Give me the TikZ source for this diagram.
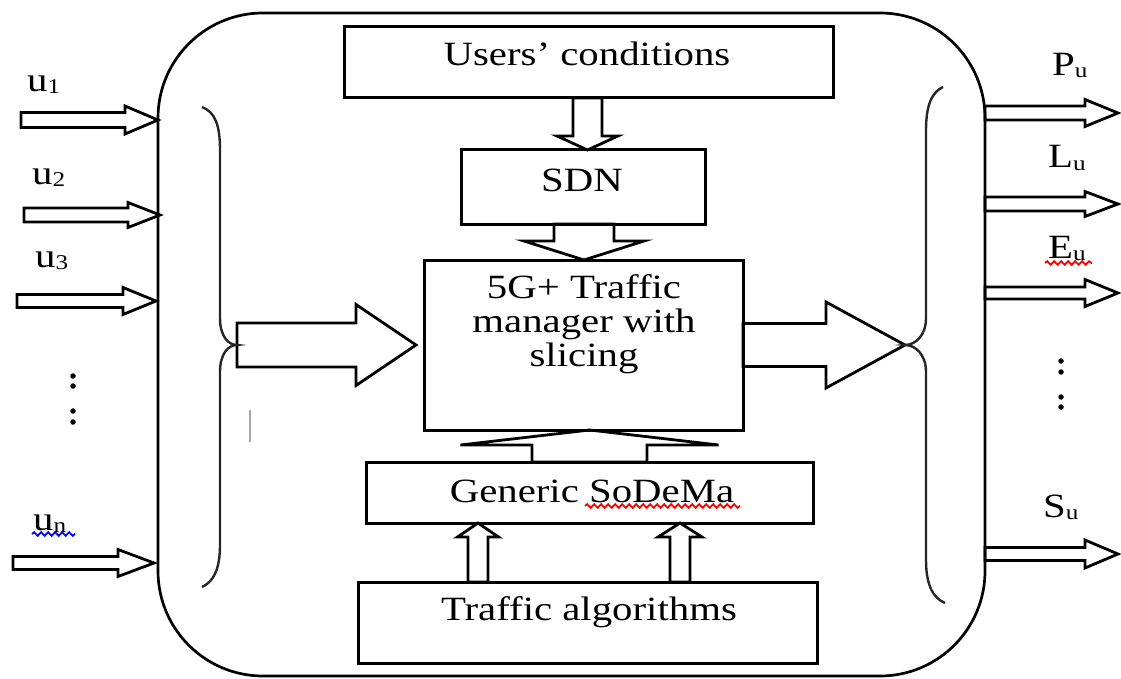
\documentclass[tikz,border=0pt]{standalone}
\usepackage{fontspec}
\setmainfont{Liberation Serif}[FakeStretch=1.2]
\usetikzlibrary{calc,backgrounds,decorations.pathmorphing}

\newcommand\mylbl[2]{#1\raisebox{-2pt}{\fontsize{21}{21}\selectfont #2}}
% horizontal block arrow pointing right: start, tip, shaft half, head half, head length
\newcommand\blockR[5]{\draw[blk] let \p1=#1, \p2=#2 in
  (\x1,\y2+#3) -- (\x2-#5,\y2+#3) -- (\x2-#5,\y2+#4) -- (\x2,\y2)
  -- (\x2-#5,\y2-#4) -- (\x2-#5,\y2-#3) -- (\x1,\y2-#3) -- cycle;}
% vertical block arrow pointing down
\newcommand\blockD[5]{\draw[blk] let \p1=#1, \p2=#2 in
  (\x2-#3,\y1) -- (\x2-#3,\y2+#5) -- (\x2-#4,\y2+#5) -- (\x2,\y2)
  -- (\x2+#4,\y2+#5) -- (\x2+#3,\y2+#5) -- (\x2+#3,\y1) -- cycle;}
% vertical block arrow pointing up
\newcommand\blockU[5]{\draw[blk] let \p1=#1, \p2=#2 in
  (\x2-#3,\y1) -- (\x2-#3,\y2-#5) -- (\x2-#4,\y2-#5) -- (\x2,\y2)
  -- (\x2+#4,\y2-#5) -- (\x2+#3,\y2-#5) -- (\x2+#3,\y1) -- cycle;}

\tikzset{
  blk/.style={draw, line width=2.8pt, fill=white},
  box/.style={draw, line width=3pt, inner sep=0pt, outer sep=0pt},
  lab/.style={anchor=base west, inner sep=0pt},
  txt/.style={anchor=base, inner sep=0pt},
  brace/.style={draw=black!85, line width=2.4pt},
  squig/.style={decorate, decoration={snake, amplitude=1.8pt, segment length=7pt}, line width=1.8pt},
  dotmark/.style={fill=black, draw=none, circle, minimum size=5.5pt, inner sep=0pt},
}

\begin{document}
\begin{tikzpicture}[x=1pt,y=-1pt,font=\fontsize{34}{34}\selectfont]
\useasboundingbox (0,0) rectangle (1121,679);

% frame
\node[draw, line width=2.7pt, rounded corners=105pt, minimum width=827pt, minimum height=663pt, inner sep=0pt] (frame) at (571.5,344.5) {};

% boxes
\node[box, minimum width=489pt, minimum height=71pt] (uc) at (588.5,62.5) {};
\node[box, minimum width=244pt, minimum height=74pt] (sdn) at (583,187) {};
\node[box, minimum width=319pt, minimum height=170pt] (tm) at (583.5,345) {};
\node[box, minimum width=447pt, minimum height=61pt] (sdm) at (589.5,492.5) {};
\node[box, minimum width=459pt, minimum height=81pt] (ta) at (587.5,622.5) {};

% texts
\node[txt] (uctext) at (587,66) {Users’ conditions};
\node[txt] (sdntext) at (582,192) {SDN};
\node[align=center, inner sep=0pt] (tmtext) at (584,324) {5G+ Traffic\\manager with\\slicing};
\node[txt] (sdmtext) at (592,502) {Generic SoDeMa};
\node[txt] (tatext) at (589,620) {Traffic algorithms};

% braces
\coordinate (lbt) at (237,345);
\coordinate (rbt) at (905,345);
\draw[brace] (202,107) .. controls (215,112) and (220,125) .. (220,150) -- (220,318)
  .. controls (220,336) and (228,345) .. (lbt)
  .. controls (228,345) and (220,354) .. (220,372) -- (220,545)
  .. controls (220,570) and (213,582) .. (202,587);
\draw[brace] (943,87) .. controls (932,92) and (926,105) .. (926,130) -- (926,318)
  .. controls (926,336) and (915,345) .. (rbt)
  .. controls (915,345) and (926,354) .. (926,372) -- (926,560)
  .. controls (926,585) and (933,598) .. (945,603);

% coordinates for arrows
\coordinate (i1) at (21,120);  \coordinate (i1t) at (158,120);
\coordinate (i2) at (24,215);  \coordinate (i2t) at (160,215);
\coordinate (i3) at (17,301);  \coordinate (i3t) at (156,301);
\coordinate (in) at (13,563);  \coordinate (int) at (154,563);
\coordinate (o1) at (985,113); \coordinate (o1t) at (1118,113);
\coordinate (o2) at (985,204); \coordinate (o2t) at (1118,204);
\coordinate (o3) at (985,293); \coordinate (o3t) at (1118,293);
\coordinate (o4) at (985,554); \coordinate (o4t) at (1118,554);

\begin{pgfonlayer}{background}
  % inputs
  \blockR{(i1)}{(i1t)}{7.5}{14}{33}
  \blockR{(i2)}{(i2t)}{7}{12.5}{32}
  \blockR{(i3)}{(i3t)}{6.5}{13.5}{33}
  \blockR{(in)}{(int)}{6.5}{13.5}{36}
  % outputs
  \blockR{(o1)}{(o1t)}{7}{13.5}{33}
  \blockR{(o2)}{(o2t)}{7}{12.5}{33}
  \blockR{(o3)}{(o3t)}{6}{13.5}{33}
  \blockR{(o4)}{(o4t)}{6.5}{14}{33}
  % internal
  \blockD{(587.5,98)}{(587.5,150)}{14.5}{30.5}{14}
  \blockD{(584,224)}{(584,260)}{30}{60}{19}
  \blockU{(589.5,462)}{(589.5,430)}{57.5}{129}{15}
  \blockU{(478,582)}{(478,523)}{10}{20.5}{14}
  \blockU{(680,582)}{(680,523)}{10}{22}{14}
  \blockR{(lbt)}{(416,345)}{22}{40.5}{60}
  \blockR{(743,345)}{(rbt)}{21.5}{43}{79}
\end{pgfonlayer}

% labels
\node[lab] (lu1) at (27,92) {\mylbl{u}{1}};
\node[lab] (lu2) at (32,185) {\mylbl{u}{2}};
\node[lab] (lu3) at (35,267) {\mylbl{u}{3}};
\node[lab] (lun) at (33,530) {\mylbl{u}{n}};
\node[lab] (lpu) at (1052,76) {\mylbl{P}{u}};
\node[lab] (llu) at (1048,168) {\mylbl{L}{u}};
\node[lab] (leu) at (1048,258) {\mylbl{E}{u}};
\node[lab] (lsu) at (1043,517) {\mylbl{S}{u}};

% spell-check squiggles
\draw[squig, blue] (32,534) -- (75,534);
\draw[squig, red] (1045,263) -- (1092,263);
\draw[squig, red] (585,506) -- (740,506);

% vertical dots
\foreach \yy [count=\i] in {376,386,411,422} \node[dotmark] (ld\i) at (73,\yy) {};
\foreach \yy [count=\i] in {361,372,397,407} \node[dotmark] (rd\i) at (1061,\yy) {};

% cursor mark
\draw[black!35, line width=1.5pt] (250,410) -- (250,442);
\end{tikzpicture}
\end{document}
